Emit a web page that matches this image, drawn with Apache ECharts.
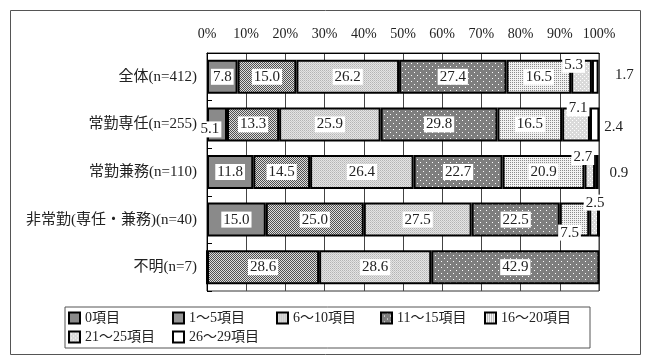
<!DOCTYPE html>
<html>
<head>
<meta charset="utf-8">
<script src="https://cdn.jsdelivr.net/npm/echarts@6/dist/echarts.min.js"></script>
<style>
html,body{margin:0;padding:0;background:#fff;}
#c{width:647px;height:363px;}
</style>
</head>
<body>
<div id="c"></div>
<script>
const categories = ['全体(n=412)', '常勤専任(n=255)', '常勤兼務(n=110)', '非常勤(専任・兼務)(n=40)', '不明(n=7)'];
const seriesNames = ['0項目', '1～5項目', '6～10項目', '11～15項目', '16～20項目', '21～25項目', '26～29項目'];
const v0 = [7.8, 5.1, 11.8, 15.0, 0];
const v1to5 = [15.0, 13.3, 14.5, 25.0, 28.6];
const v6to10 = [26.2, 25.9, 26.4, 27.5, 28.6];
const v11to15 = [27.4, 29.8, 22.7, 22.5, 42.9];
const v16to20 = [16.5, 16.5, 20.9, 7.5, 0];
const v21to25 = [5.3, 7.1, 2.7, 2.5, 0];
const v26to29 = [1.7, 2.4, 0.9, 0, 0];
const xTicks = [0, 10, 20, 30, 40, 50, 60, 70, 80, 90, 100];

const allValues = [v0, v1to5, v6to10, v11to15, v16to20, v21to25, v26to29];

// label offsets for small segments: key "series,category"
const labelOffsets = {
  '5,0': [-8, -12],
  '6,0': [29, -2],
  '0,1': [-7, 5],
  '5,1': [2, -16],
  '6,1': [19, 3],
  '5,2': [-7, -15],
  '6,2': [22, 1],
  '4,3': [-5, 13],
  '5,3': [1, -17]
};

function pat(w, h, draw) {
  const c = document.createElement('canvas');
  c.width = w; c.height = h;
  const g = c.getContext('2d');
  draw(g);
  return { image: c, repeat: 'repeat' };
}
const fills = [
  '#8a8a8a',
  pat(2, 2, g => { g.fillStyle = '#dcdcdc'; g.fillRect(0,0,2,2); g.fillStyle = '#505050'; g.fillRect(0,0,1,1); g.fillRect(1,1,1,1); }),
  pat(2, 2, g => { g.fillStyle = '#b4b4b4'; g.fillRect(0,0,2,2); g.fillStyle = '#e4e4e4'; g.fillRect(1,0,1,1); g.fillRect(0,1,1,1); g.fillStyle = '#c8c8c8'; g.fillRect(1,1,1,1); }),
  pat(6, 6, g => { g.fillStyle = '#7e7e7e'; g.fillRect(0,0,6,6); g.fillStyle = '#fff'; g.fillRect(0,0,1,1); g.fillRect(3,3,1,1); }),
  pat(2, 2, g => { g.fillStyle = '#f2f2f2'; g.fillRect(0,0,2,2); g.fillStyle = '#8a8a8a'; g.fillRect(0,0,1,1); }),
  pat(4, 4, g => { g.fillStyle = '#dadada'; g.fillRect(0,0,4,4); g.fillStyle = '#fff'; g.fillRect(0,0,1,1); g.fillRect(2,2,1,1); }),
  '#ffffff'
];

const FONT = "'Liberation Serif', 'Noto Sans CJK JP', serif";

const series = seriesNames.map((name, si) => ({
  name: name,
  type: 'bar',
  stack: 'total',
  barWidth: 34,
  itemStyle: { color: fills[si], borderColor: '#000', borderWidth: 2 },
  label: {
    show: true,
    position: 'inside',
    fontFamily: FONT,
    fontSize: 15,
    color: '#222',
    backgroundColor: '#fff',
    padding: [1, 2, 0, 2],
    formatter: p => p.value > 0 ? p.value.toFixed(1) : ''
  },
  data: allValues[si].map((v, ci) => {
    const off = labelOffsets[si + ',' + ci];
    const item = { value: v };
    if (off) item.label = { offset: off };
    if (v === 0) item.label = { show: false };
    return item;
  })
}));

const chart = echarts.init(document.getElementById('c'), null, { renderer: 'canvas' });
chart.setOption({
  animation: false,
  backgroundColor: '#fff',
  grid: { left: 207, right: 48, top: 53, bottom: 72, show: true, borderColor: '#333', borderWidth: 1 },
  xAxis: {
    type: 'value', position: 'top', min: 0, max: 100, interval: 10,
    axisLine: { show: true, lineStyle: { color: '#000', width: 1 } },
    axisTick: { show: false },
    splitLine: { show: true, lineStyle: { color: '#444', width: 1 } },
    axisLabel: {
      margin: 12, fontFamily: FONT, fontSize: 14, color: '#222',
      formatter: v => (xTicks.indexOf(v) >= 0 ? v + '%' : '')
    }
  },
  yAxis: {
    type: 'category', inverse: true, data: categories,
    axisLine: { show: true, lineStyle: { color: '#000', width: 1 } },
    axisTick: { show: true, inside: true, length: 5, lineStyle: { color: '#000' } },
    axisLabel: { margin: 10, fontFamily: FONT, fontSize: 15, color: '#222' }
  },
  legend: {
    data: seriesNames,
    icon: 'rect',
    left: 65, top: 307, width: 522,
    orient: 'horizontal',
    padding: [2, 3],
    itemGap: 1,
    itemWidth: 11, itemHeight: 11,
    borderColor: '#555', borderWidth: 1,
    itemStyle: { borderColor: '#000', borderWidth: 2 },
    textStyle: { fontFamily: FONT, fontSize: 14, color: '#222', width: 86, lineHeight: 18 }
  },
  graphic: [{
    type: 'rect', silent: true, z: -1,
    shape: { x: 10.5, y: 10.5, width: 630, height: 344 },
    style: { fill: 'none', stroke: '#555', lineWidth: 1 }
  }],
  series: series
});
</script>
</body>
</html>
